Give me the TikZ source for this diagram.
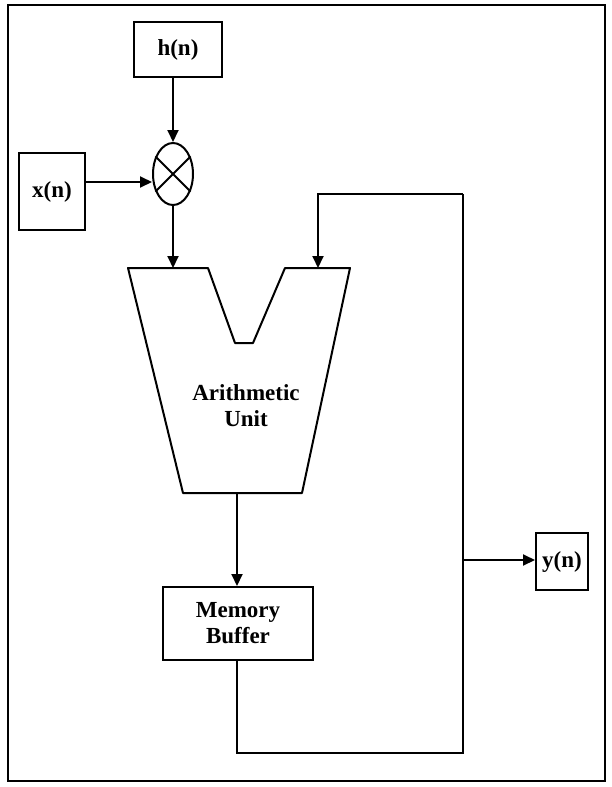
\documentclass[tikz,border=0pt]{standalone}
\usepackage{fontspec}
\setmainfont{Liberation Serif}
\usetikzlibrary{arrows.meta,shapes.geometric}

\begin{document}
\begin{tikzpicture}[x=1pt,y=-1pt,>={Triangle[length=12pt,width=11pt]},
  every node/.style={font=\fontsize{23}{26}\selectfont\bfseries},
  block/.style={draw,line width=2pt,inner sep=0pt,align=center},
  wire/.style={line width=2pt},
  flow/.style={->,line width=2pt}]
  \useasboundingbox (0,0) rectangle (612,787);
  \draw[line width=2.2pt] (8,5) rectangle (605,781);
  % inputs and multiplier
  \node[block,minimum width=88pt,minimum height=55pt] (hn) at (178,49.5) {h(n)};
  \node[block,minimum width=66pt,minimum height=77pt] (xn) at (52,191.5) {x(n)};
  \node[block,ellipse,minimum width=40pt,minimum height=62pt] (mult) at (173,174) {};
  \draw[wire] (mult.45) -- (mult.225) (mult.135) -- (mult.315);
  % arithmetic unit
  \coordinate (auin1) at (173,268);
  \coordinate (auin2) at (318,268);
  \coordinate (auout) at (237,493);
  \draw[wire,line join=round] (128,268) -- (208,268) -- (235,343) -- (253,343)
    -- (285,268) -- (350,268) -- (302,493) -- (183,493) -- cycle;
  \node[align=center] (au) at (246,406) {Arithmetic\\Unit};
  % output side
  \node[block,minimum width=150pt,minimum height=73pt] (mem) at (238,623.5) {Memory\\Buffer};
  \node[block,minimum width=52pt,minimum height=57pt] (yn) at (562,561.5) {y(n)};
  \coordinate (fbtop) at (463,194);
  \coordinate (fbbot) at (463,753);
  \coordinate (tap) at (463,560);

  \draw[flow] (mult |- hn.south) -- (mult.north);
  \draw[flow] (xn.east |- 0,182) -- (mult.west |- 0,182);
  \draw[flow] (mult.south) -- (auin1);
  \draw[flow] (auout) -- (auout |- mem.north);
  \draw[wire] (auout |- mem.south) |- (fbbot) -- (fbtop);
  \draw[flow] (fbtop) -| (auin2);
  \draw[flow] (tap) -- (yn.west |- tap);
\end{tikzpicture}
\end{document}
